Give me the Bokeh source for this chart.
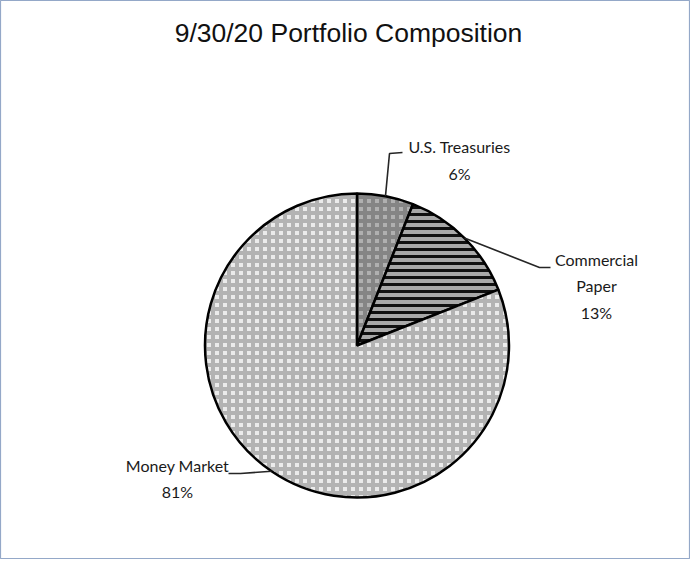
import numpy as np
from bokeh.plotting import figure
from bokeh.models import Range1d, ColumnDataSource
from bokeh.core.properties import value
from bokeh.embed import file_html
from bokeh.resources import INLINE

# ---- data ----
title_text = "9/30/20 Portfolio Composition"
categories = ["U.S. Treasuries", "Commercial Paper", "Money Market"]
label_text = ["U.S. Treasuries", "Commercial\nPaper", "Money Market"]
shares = [6, 13, 81]

# ---- styles / layout ----
fills = ["#b0b0b0", "#a8a8a8", "#ebebeb"]
hatch_patterns = ["cross", "horizontal_line", "cross"]
hatch_colors = ["#858585", "#111111", "#b3b3b3"]
hatch_scales = [8, 7, 8]
hatch_weights = [4, 3, 4]

W, H = 690, 559
def px(x):  # page x -> data x
    return x - 8
def py(y):  # page y -> data y
    return (H + 8) - y

cx, cy, r = px(364.5), py(353), 152
label_pos = [(467, 167.5), (604, 293.5), (185, 486)]
elbows = [[(397, 161), (410, 160)], [(547, 275), (558, 275)], [(248, 481), (236, 481)]]

p = figure(width=W, height=H, x_range=Range1d(0, W), y_range=Range1d(0, H),
           output_backend="svg", toolbar_location=None, min_border=0,
           x_axis_location=None, y_axis_location=None)
p.grid.visible = False
p.outline_line_color = "#94a8c8"
p.outline_line_width = 1.2
p.background_fill_color = "white"
p.border_fill_color = "white"

frac = np.array(shares, dtype=float) / sum(shares)
cum = np.concatenate([[0], np.cumsum(frac)])
starts = np.pi / 2 - 2 * np.pi * cum[:-1]
ends = np.pi / 2 - 2 * np.pi * cum[1:]
mids = (starts + ends) / 2

for i in range(len(shares)):
    p.wedge(x=cx, y=cy, radius=r, start_angle=starts[i], end_angle=ends[i],
            direction="clock", fill_color=fills[i], line_color="black", line_width=2.5,
            hatch_pattern=hatch_patterns[i], hatch_color=hatch_colors[i],
            hatch_scale=hatch_scales[i], hatch_weight=hatch_weights[i])

# leader lines
for i in range(len(shares)):
    x0 = cx + r * np.cos(mids[i])
    y0 = cy + r * np.sin(mids[i])
    xs = [x0] + [px(e[0]) for e in elbows[i]]
    ys = [y0] + [py(e[1]) for e in elbows[i]]
    p.line(xs, ys, line_color="#262626", line_width=1.6)

# labels
src = ColumnDataSource(dict(
    x=[px(lp[0]) for lp in label_pos],
    y=[py(lp[1]) for lp in label_pos],
    t=[f"{label_text[i]}\n{shares[i]}%" for i in range(len(shares))],
))
p.text(x="x", y="y", text="t", source=src, text_align="center", text_baseline="middle",
       text_font=value("Lato"), text_font_size="16px", text_color="#1a1a1a",
       text_line_height=1.38)

# title
p.text(x=[px(356)], y=[py(40)], text=[title_text], text_align="center", text_baseline="middle",
       text_font=value("Liberation Sans"), text_font_size="26.5px", text_color="#111111")

open("out.html", "w").write(file_html(p, INLINE))
